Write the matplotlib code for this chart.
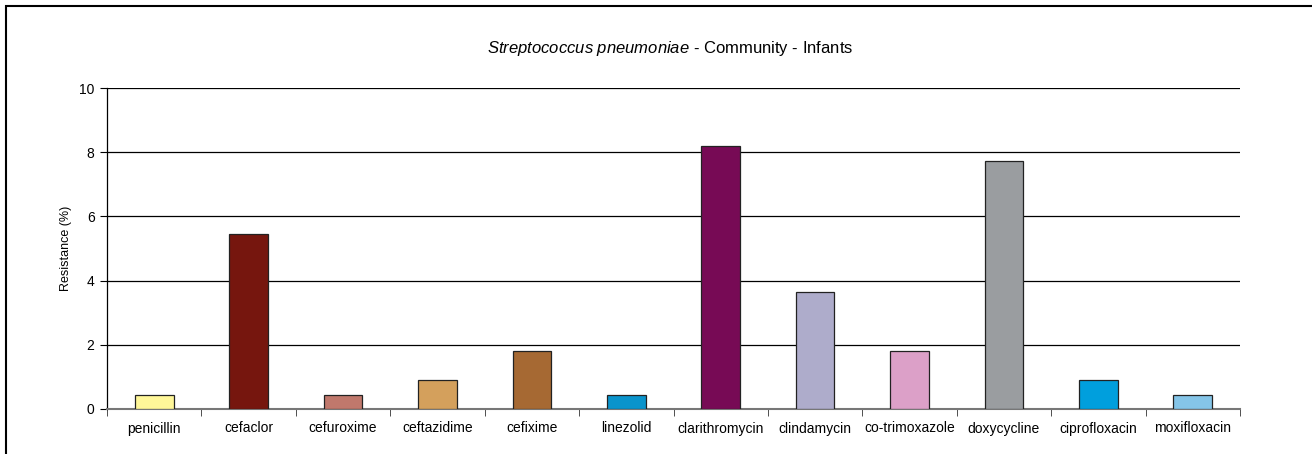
import matplotlib
matplotlib.use("Agg")
import matplotlib.pyplot as plt
import numpy as np

antibiotics = ["penicillin", "cefaclor", "cefuroxime", "ceftazidime", "cefixime",
               "linezolid", "clarithromycin", "clindamycin", "co-trimoxazole",
               "doxycycline", "ciprofloxacin", "moxifloxacin"]
resistance = [0.45, 5.45, 0.45, 0.91, 1.82, 0.45, 8.18, 3.64, 1.82, 7.73, 0.91, 0.45]
bar_colors = ["#FFF799", "#76160E", "#C0786C", "#D4A05C", "#A66933", "#0A94CC",
              "#770A55", "#AEACCB", "#DCA0C8", "#9A9DA0", "#009FDD", "#85C5E8"]

plt.rcParams["font.family"] = ["Liberation Sans", "DejaVu Sans"]
plt.rcParams["mathtext.fontset"] = "custom"
plt.rcParams["mathtext.rm"] = "Liberation Sans"
plt.rcParams["mathtext.it"] = "Liberation Sans:italic"

fig = plt.figure(figsize=(13.12, 4.54), dpi=100)
# outer chart border (right/bottom edges are cut off in the original)
fig.patches.append(plt.Rectangle((6 / 1312, -0.1), 1.2, 1 - 6 / 454 + 0.1,
                                 transform=fig.transFigure, fill=False,
                                 edgecolor="black", linewidth=1.5))

ax = fig.add_axes([107 / 1312, 45 / 454, 1133 / 1312, 321 / 454])
x = np.arange(len(antibiotics))
ax.bar(x, resistance, width=0.41, color=bar_colors, edgecolor="#222222",
       linewidth=0.9, zorder=3)

ax.set_xlim(-0.5, len(antibiotics) - 0.5)
ax.set_ylim(0, 10)
ax.set_yticks([0, 2, 4, 6, 8, 10])
ax.set_yticklabels(["0", "2", "4", "6", "8", "10"], fontsize=10)
ax.yaxis.grid(True, color="black", linewidth=0.9, zorder=0)
ax.set_axisbelow(True)

ax.set_xticks(x)
ax.set_xticklabels(antibiotics, fontsize=10)
ax.tick_params(axis="x", which="major", length=0, pad=9)
ax.set_xticks(np.arange(-0.5, len(antibiotics)), minor=True)
ax.tick_params(axis="x", which="minor", length=5, color="#333333", direction="out")
ax.tick_params(axis="y", length=5, direction="out", pad=4)

for side in ["top", "right"]:
    ax.spines[side].set_visible(False)
ax.spines["bottom"].set_color("#777777")
ax.spines["bottom"].set_linewidth(1.5)
ax.spines["left"].set_linewidth(0.9)

ax.set_ylabel("Resistance (%)", fontsize=9, labelpad=5)
fig.text(670 / 1312, 1 - 48 / 454, "$\\it{Streptococcus\\ pneumoniae}$ - Community - Infants",
         ha="center", va="center", fontsize=12)

fig.savefig("out.png", dpi=100)
